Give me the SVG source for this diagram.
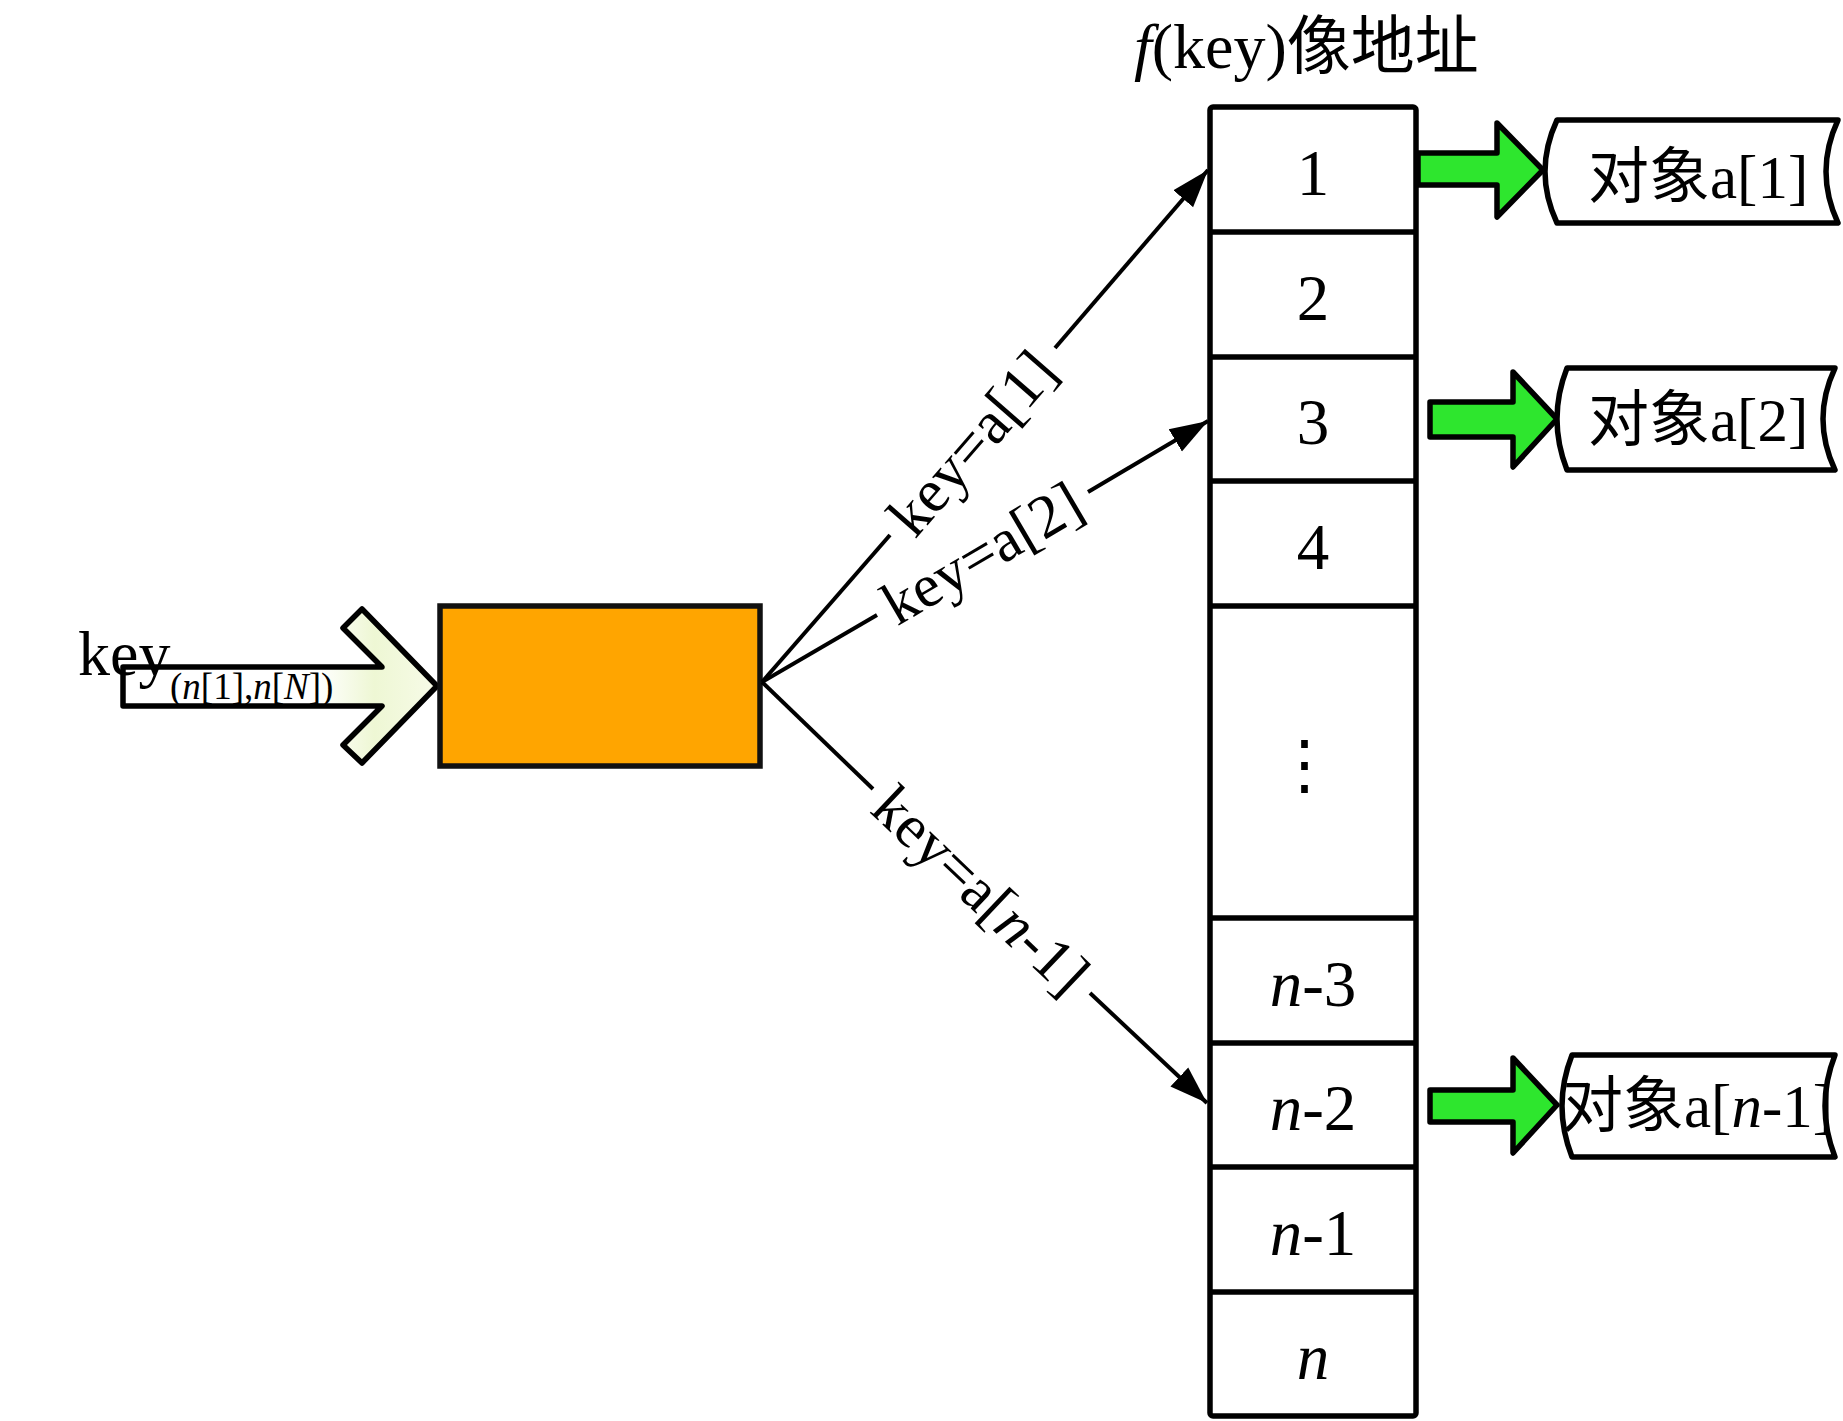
<svg xmlns="http://www.w3.org/2000/svg" width="1843" height="1421" viewBox="0 0 1843 1421">
<style>
.t{font-family:"Liberation Serif","Noto Sans CJK SC",serif;fill:#000}
.cell{font-family:"Liberation Serif",serif;font-size:65px;text-anchor:middle}
.lbl{font-family:"Liberation Serif",serif;font-size:61px;text-anchor:middle;dominant-baseline:central}
.obj{font-family:"Liberation Serif","Noto Sans CJK SC",serif;font-size:61px}
.g{fill:#2ee62e;stroke:#000;stroke-width:5.5;stroke-linejoin:round}
.box{fill:#fff;stroke:#000;stroke-width:5.5;stroke-linejoin:round}
.ln{stroke:#000;stroke-width:4;fill:none}
.cl{stroke:#000;stroke-width:5.5}
</style>
<defs>
<marker id="ah" markerUnits="userSpaceOnUse" markerWidth="40" markerHeight="30" refX="38" refY="15" orient="auto">
<path d="M0,2 L38,15 L0,28 Z" fill="#000"/>
</marker>
<linearGradient id="pale" x1="0" y1="0" x2="1" y2="0">
<stop offset="0" stop-color="#ffffff"/>
<stop offset="0.62" stop-color="#ffffff"/>
<stop offset="0.8" stop-color="#eef7d4"/>
<stop offset="1" stop-color="#f7fbe8"/>
</linearGradient>
</defs>

<g id="title">
<text class="t" x="1134" y="68" font-size="64"><tspan font-style="italic">f</tspan>(key)像地址</text>
</g>

<g id="input-arrow">
<path d="M123,667 L382,667 L343,628 L362,609 L437,686 L362,763 L343,745 L382,706 L123,706 Z" fill="url(#pale)" stroke="#000" stroke-width="5.5" stroke-linejoin="round"/>
<text class="t" x="78" y="675" font-size="64">key</text>
<text class="t" x="170" y="699" font-size="37">(<tspan font-style="italic">n</tspan>[1],<tspan font-style="italic">n</tspan>[<tspan font-style="italic">N</tspan>])</text>
</g>

<g id="hash-function">
<rect x="440" y="606" width="320" height="160" fill="#ffa500" stroke="#111" stroke-width="5.5"/>
</g>

<g id="address-table">
<rect x="1210" y="107" width="206" height="1309" rx="3" fill="#fff" stroke="#000" stroke-width="5.5"/>
<line class="cl" x1="1210" y1="232" x2="1416" y2="232"/>
<line class="cl" x1="1210" y1="357" x2="1416" y2="357"/>
<line class="cl" x1="1210" y1="481" x2="1416" y2="481"/>
<line class="cl" x1="1210" y1="606" x2="1416" y2="606"/>
<line class="cl" x1="1210" y1="918" x2="1416" y2="918"/>
<line class="cl" x1="1210" y1="1043" x2="1416" y2="1043"/>
<line class="cl" x1="1210" y1="1167" x2="1416" y2="1167"/>
<line class="cl" x1="1210" y1="1292" x2="1416" y2="1292"/>
<text class="cell" x="1313" y="195">1</text>
<text class="cell" x="1313" y="320">2</text>
<text class="cell" x="1313" y="444">3</text>
<text class="cell" x="1313" y="569">4</text>
<text class="cell" x="1304" y="787" font-family="DejaVu Sans" font-size="70">⋮</text>
<text class="cell" x="1313" y="1006"><tspan font-style="italic">n</tspan>-3</text>
<text class="cell" x="1313" y="1130"><tspan font-style="italic">n</tspan>-2</text>
<text class="cell" x="1313" y="1255"><tspan font-style="italic">n</tspan>-1</text>
<text class="cell" x="1313" y="1379" font-style="italic">n</text>
</g>

<g id="object-1">
<path class="g" d="M1418,153 L1497,153 L1497,123 L1543,170 L1497,217 L1497,185 L1418,185 Z"/>
<path class="box" d="M1557,120 L1838,120 Q1814,171.5 1838,223 L1557,223 Q1533,171.5 1557,120 Z"/>
<text class="obj" x="1588" y="198">对象a[1]</text>
</g>

<g id="object-2">
<path class="g" d="M1430,402 L1513,402 L1513,372 L1557,419 L1513,467 L1513,437 L1430,437 Z"/>
<path class="box" d="M1567,368 L1835,368 Q1811,419 1835,470 L1567,470 Q1547,419 1567,368 Z"/>
<text class="obj" x="1588" y="441">对象a[2]</text>
</g>

<g id="object-n-1">
<path class="g" d="M1430,1090 L1513,1090 L1513,1058 L1557,1105 L1513,1153 L1513,1122 L1430,1122 Z"/>
<path class="box" d="M1572,1055 L1835,1055 Q1815,1106 1835,1157 L1572,1157 Q1552,1106 1572,1055 Z"/>
<text class="obj" x="1562" y="1127">对象a[<tspan font-style="italic">n</tspan>-1]</text>
</g>

<g id="connectors">
<line class="ln" x1="762" y1="682" x2="890" y2="535"/>
<line class="ln" x1="1055" y1="348" x2="1208" y2="170" marker-end="url(#ah)"/>
<text class="lbl" transform="translate(972,443) rotate(-49)">key=a[1]</text>

<line class="ln" x1="762" y1="682" x2="877" y2="615"/>
<line class="ln" x1="1088" y1="492" x2="1208" y2="421" marker-end="url(#ah)"/>
<text class="lbl" transform="translate(982,553) rotate(-30.4)">key=a[2]</text>

<line class="ln" x1="762" y1="682" x2="873" y2="789"/>
<line class="ln" x1="1090" y1="993" x2="1207" y2="1103" marker-end="url(#ah)"/>
<text class="lbl" transform="translate(981,890) rotate(43.5)">key=a[<tspan font-style="italic">n</tspan>-1]</text>
</g>
</svg>
